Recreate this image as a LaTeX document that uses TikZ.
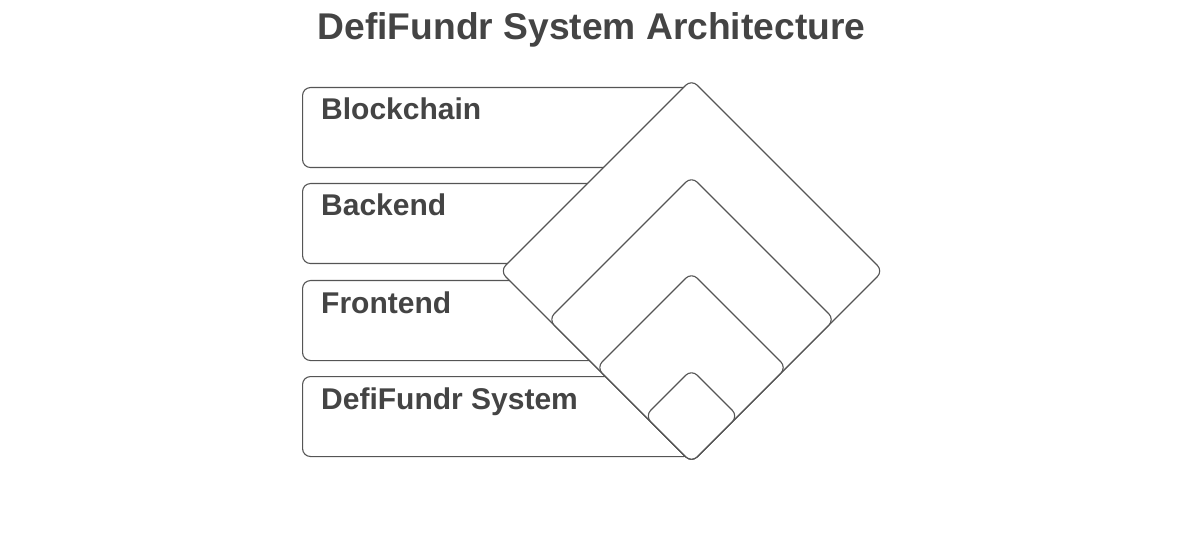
\documentclass[tikz,border=0pt]{standalone}
\usepackage{fontspec}
\setmainfont{Liberation Sans}
\usetikzlibrary{shapes.geometric}

\definecolor{inkgray}{HTML}{444444}
\definecolor{linegray}{HTML}{555555}

\begin{document}
\begin{tikzpicture}[x=1pt, y=-1pt,
    tier/.style={draw=linegray, line width=1.1pt, rounded corners=8pt, fill=white,
      minimum width=389pt, minimum height=80pt, inner sep=0pt, anchor=north west},
    tierlabel/.style={text=inkgray, font=\fontsize{30}{36}\selectfont\bfseries,
      anchor=base west, inner sep=0pt},
    layer/.style={draw=linegray, line width=1.1pt, rounded corners=8pt, fill=white,
      diamond, aspect=1, inner sep=0pt, outer sep=0pt}]

% Fix the page size
  \useasboundingbox (0,0) rectangle (1177,534);

% Draw the title
  \node[text=inkgray, font=\fontsize{37.2}{44}\selectfont\bfseries, anchor=base]
    (title) at (591.5,40) {DefiFundr System Architecture};



% Draw the four tiers on the left
  \node[tier] (blockchain) at (302,87) {};
  \node[tier] (backend) at (302,183) {};
  \node[tier] (frontend) at (302,280) {};
  \node[tier] (system) at (302,376) {};

  \node[tierlabel] (blockchainlbl) at (321,120) {Blockchain};
  \node[tierlabel] (backendlbl) at (321,216) {Backend};
  \node[tierlabel] (frontendlbl) at (321,313) {Frontend};
  \node[tierlabel] (systemlbl) at (321,409) {DefiFundr System};



% Draw the nested diamonds, biggest first, all sharing the bottom tip
  \node[layer, minimum size=383pt] (outer) at (691.5,271) {};
  \node[layer, minimum size=286pt] (second) at (691.5,319.5) {};
  \node[layer, minimum size=190pt] (third) at (691.5,367.5) {};
  \node[layer, minimum size=93pt] (inner) at (691.5,416) {};

\end{tikzpicture}
\end{document}
